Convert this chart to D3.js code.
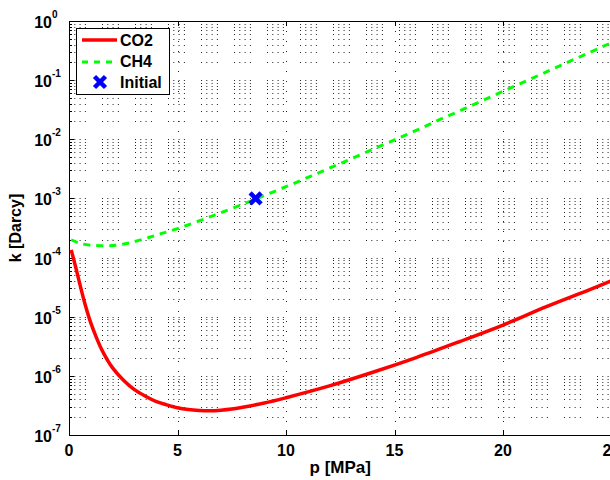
<!DOCTYPE html>
<html>
<head>
<meta charset="utf-8">
<script src="https://cdn.jsdelivr.net/npm/d3@7"></script>
<style>
  html, body { margin: 0; padding: 0; background: #fff; }
  svg { display: block; }
  text { font-family: "Liberation Sans", Arial, sans-serif; font-weight: bold; fill: #000; }
</style>
</head>
<body>
<svg id="chart" width="610" height="480"></svg>
<script>
// ---- data ----
const co2P = [0.1, 0.3, 0.5, 0.75, 1.0, 1.25, 1.5, 1.75, 2.0, 2.5, 3.0, 3.5, 4.0, 4.5, 5.0, 5.5, 6.0, 6.5, 7.0, 7.5, 8.0, 9.0, 10.0, 12.0, 14.0, 16.0, 18.0, 20.0, 22.0, 24.0, 25.0];
const co2K = [1.35e-4, 7.08e-5, 3.55e-5, 1.58e-5, 7.94e-6, 4.57e-6, 2.82e-6, 1.91e-6, 1.38e-6, 8.51e-7, 5.89e-7, 4.57e-7, 3.72e-7, 3.24e-7, 2.88e-7, 2.69e-7, 2.60e-7, 2.57e-7, 2.63e-7, 2.75e-7, 2.95e-7, 3.47e-7, 4.27e-7, 6.76e-7, 1.15e-6, 2.04e-6, 3.80e-6, 7.24e-6, 1.48e-5, 2.88e-5, 4.07e-5];
const ch4P = [0.1, 0.5, 1.0, 1.6, 2.2, 2.8, 3.5, 4.2, 5.0, 6.0, 7.0, 8.0, 8.6, 9.0, 10.0, 11.0, 12.0, 13.0, 14.0, 15.0, 16.0, 17.0, 18.0, 19.0, 20.0, 21.0, 22.0, 23.0, 24.0, 25.0];
const ch4K = [2.0e-4, 1.74e-4, 1.62e-4, 1.58e-4, 1.62e-4, 1.78e-4, 2.09e-4, 2.51e-4, 3.09e-4, 4.17e-4, 5.75e-4, 7.94e-4, 9.77e-4, 1.12e-3, 1.58e-3, 2.26e-3, 3.24e-3, 4.68e-3, 6.76e-3, 9.77e-3, 1.41e-2, 2.09e-2, 3.02e-2, 4.42e-2, 6.46e-2, 9.44e-2, 0.138, 0.202, 0.295, 0.431];
const initialP = [8.6];
const initialK = [1.0e-3];
const seriesNames = ["CO2", "CH4", "Initial"];
const xTicks = [0, 5, 10, 15, 20, 25];
const yExponents = [0, -1, -2, -3, -4, -5, -6, -7];
const xLabel = "p [MPa]";
const yLabel = "k [Darcy]";

// ---- layout ----
const svg = d3.select("#chart");
const mLeft = 69, mTop = 21, mBottom = 435, mRight = 611.5;
const x = d3.scaleLinear().domain([0, 25]).range([mLeft, mRight]);
const y = d3.scaleLog().domain([1e-7, 1]).range([mBottom, mTop]);

svg.append("rect").attr("width", 610).attr("height", 480).attr("fill", "#fff");

// ---- grid ----
const grid = svg.append("g");
const minorVals = [];
for (let e = -7; e < 0; e++) for (let m = 1; m <= 9; m++) minorVals.push(m * Math.pow(10, e));
minorVals.push(1);
grid.selectAll("line.h").data(minorVals.filter(v => v > 1e-7 && v < 1)).enter().append("line")
  .attr("x1", mLeft).attr("x2", mRight)
  .attr("y1", d => Math.round(y(d)) + 0.5).attr("y2", d => Math.round(y(d)) + 0.5)
  .attr("stroke", "#222").attr("stroke-width", 1)
  .attr("stroke-dasharray", "1,4.3,1,4.3,1,4.3,1,16.1");
grid.selectAll("line.v").data(xTicks.filter(d => d > 0 && d < 25)).enter().append("line")
  .attr("x1", d => Math.round(x(d)) + 0.5).attr("x2", d => Math.round(x(d)) + 0.5)
  .attr("y1", mTop).attr("y2", mBottom)
  .attr("stroke", "#222").attr("stroke-width", 1)
  .attr("stroke-dasharray", "1,9");

// ---- axes ----
const ax = svg.append("g");
ax.append("line").attr("x1", mLeft + 0.5).attr("x2", mLeft + 0.5).attr("y1", mTop).attr("y2", mBottom + 0.5).attr("stroke", "#000");
ax.append("line").attr("x1", mLeft).attr("x2", mRight).attr("y1", mBottom + 0.5).attr("y2", mBottom + 0.5).attr("stroke", "#000");
ax.append("line").attr("x1", mLeft).attr("x2", mRight).attr("y1", mTop + 0.5).attr("y2", mTop + 0.5).attr("stroke", "#000");
// x ticks
xTicks.forEach(t => {
  const px = Math.round(x(t)) + 0.5;
  ax.append("line").attr("x1", px).attr("x2", px).attr("y1", mBottom).attr("y2", mBottom - 5).attr("stroke", "#000");
  ax.append("line").attr("x1", px).attr("x2", px).attr("y1", mTop).attr("y2", mTop + 5).attr("stroke", "#000");
  ax.append("text").attr("x", x(t)).attr("y", 456).attr("text-anchor", "middle")
    .attr("font-size", 16).text(t);
});
// y ticks (major + minor)
minorVals.forEach(v => {
  if (v < 1e-7 || v > 1) return;
  const isMajor = Math.abs(Math.log10(v) - Math.round(Math.log10(v))) < 1e-9;
  const py = Math.round(y(v)) + 0.5;
  ax.append("line").attr("x1", mLeft).attr("x2", mLeft + (isMajor ? 5 : 3)).attr("y1", py).attr("y2", py).attr("stroke", "#000");
});
yExponents.forEach(e => {
  const py = y(Math.pow(10, e));
  ax.append("text").attr("x", 52).attr("y", py + 7).attr("text-anchor", "end")
    .attr("font-size", 16).text("10");
  ax.append("text").attr("x", 52).attr("y", py - 3).attr("text-anchor", "start")
    .attr("font-size", 10).text(e);
});
// axis labels
svg.append("text").attr("x", (mLeft + mRight) / 2).attr("y", 473).attr("text-anchor", "middle")
  .attr("font-size", 17).text(xLabel);
svg.append("text").attr("transform", `translate(21,${(mTop + mBottom) / 2}) rotate(-90)`)
  .attr("text-anchor", "middle").attr("font-size", 16).text(yLabel);

// ---- lines ----
const line = d3.line().x(d => x(d[0])).y(d => y(d[1])).curve(d3.curveCatmullRom.alpha(0.5));
svg.append("path").datum(co2P.map((p, i) => [p, co2K[i]]))
  .attr("d", line).attr("fill", "none").attr("stroke", "#ff0000").attr("stroke-width", 3.5);
svg.append("path").datum(ch4P.map((p, i) => [p, ch4K[i]]))
  .attr("d", line).attr("fill", "none").attr("stroke", "#00ff00").attr("stroke-width", 3)
  .attr("stroke-dasharray", "7,6");

// marker
const xMark = (g, cx, cy, s) => {
  g.append("path").attr("d", `M${cx - s},${cy - s}L${cx + s},${cy + s}M${cx - s},${cy + s}L${cx + s},${cy - s}`)
    .attr("stroke", "#0000ff").attr("stroke-width", 4.5).attr("fill", "none");
};
initialP.forEach((p, i) => xMark(svg, x(p), y(initialK[i]), 5.5));

// ---- legend ----
const lg = svg.append("g");
lg.append("rect").attr("x", 76.5).attr("y", 28.5).attr("width", 93).attr("height", 66)
  .attr("fill", "#fff").attr("stroke", "#000");
lg.append("line").attr("x1", 82).attr("x2", 117).attr("y1", 40).attr("y2", 40).attr("stroke", "#ff0000").attr("stroke-width", 3.5);
lg.append("line").attr("x1", 82).attr("x2", 117).attr("y1", 62).attr("y2", 62).attr("stroke", "#00ff00").attr("stroke-width", 3).attr("stroke-dasharray", "6,6");
xMark(lg, 100, 82, 5.5);
[46, 67, 88].forEach((by, i) => {
  lg.append("text").attr("x", 120).attr("y", by).attr("font-size", 16).text(seriesNames[i]);
});
</script>
</body>
</html>
